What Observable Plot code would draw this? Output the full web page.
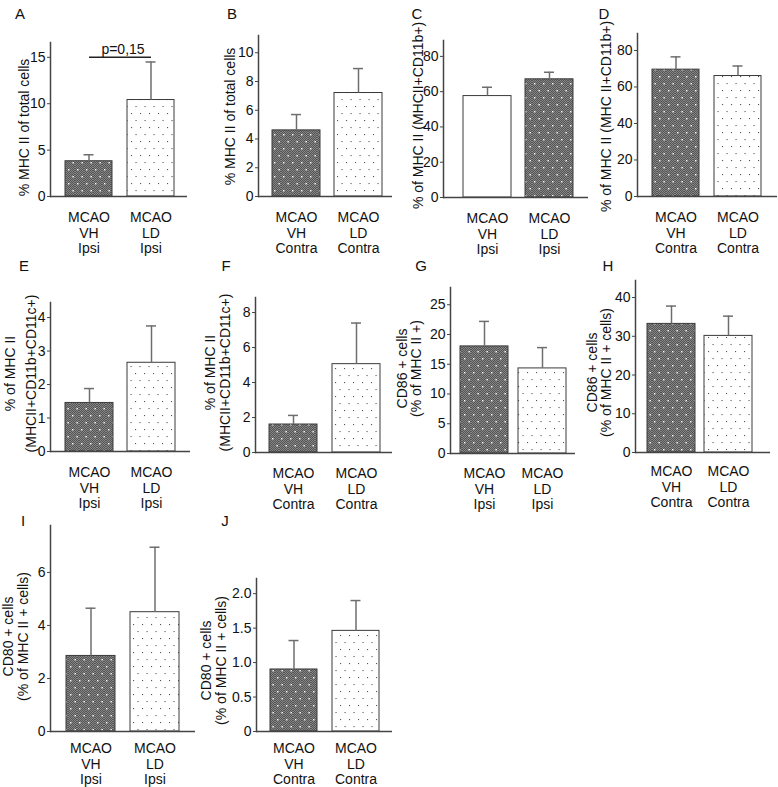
<!DOCTYPE html>
<html>
<head>
<meta charset="utf-8">
<script src="https://cdn.jsdelivr.net/npm/d3@7"></script>
<script src="https://cdn.jsdelivr.net/npm/@observablehq/plot@0.6"></script>
<style>
html, body { margin: 0; padding: 0; background: #fff; }
#root { position: relative; width: 778px; height: 787px; overflow: hidden; font-family: "Liberation Sans", Arial, sans-serif; }
.letter { position: absolute; font-size: 15px; color: #111; transform: translate(-50%, -50%); line-height: 1; }
.panel { position: absolute; }
</style>
</head>
<body>
<svg width="0" height="0" style="position:absolute">
  <defs>
    <pattern id="checker" patternUnits="userSpaceOnUse" width="2" height="2">
      <rect width="2" height="2" fill="#858585"/>
      <rect x="0" y="0" width="1" height="1" fill="#555"/>
      <rect x="1" y="1" width="1" height="1" fill="#555"/>
    </pattern>
    <pattern id="darkDots" patternUnits="userSpaceOnUse" width="9" height="14">
      <rect width="9" height="14" fill="url(#checker)"/>
      <rect x="2" y="3" width="1.4" height="1.4" fill="#fff"/>
      <rect x="6.5" y="10" width="1.4" height="1.4" fill="#fff"/>
    </pattern>
    <pattern id="lightDots" patternUnits="userSpaceOnUse" width="9" height="14">
      <rect width="9" height="14" fill="#fff"/>
      <rect x="2" y="3" width="1.1" height="1.1" fill="#555"/>
      <rect x="6.5" y="10" width="1.1" height="1.1" fill="#555"/>
    </pattern>
  </defs>
</svg>
<div id="root"></div>
<script>
// ---------- data ----------
const panelIds = ["A", "B", "C", "D", "E", "F", "G", "H", "I", "J"];
const groups = ["VH", "LD"];
const groupPrefix = "MCAO";
const hemispheres = ["Ipsi", "Contra", "Ipsi", "Contra", "Ipsi", "Contra", "Ipsi", "Contra", "Ipsi", "Contra"];
const vhMean  = [3.8, 4.6, 57.5, 69.5, 1.45, 1.6, 18.0, 33.2, 2.85, 0.9];
const vhUpper = [4.5, 5.7, 62.5, 76.5, 1.88, 2.12, 22.2, 37.8, 4.65, 1.32];
const ldMean  = [10.4, 7.2, 67.0, 66.0, 2.65, 5.05, 14.3, 30.1, 4.5, 1.46];
const ldUpper = [14.5, 8.9, 71.0, 71.5, 3.75, 7.4, 17.8, 35.2, 6.95, 1.9];
const yMax = [16.6, 11.2, 89, 89.3, 4.45, 8.86, 27.9, 44.4, 7.77, 2.22];
const yTicks = [
  [0, 5, 10, 15], [0, 2, 4, 6, 8, 10], [0, 20, 40, 60, 80], [0, 20, 40, 60, 80],
  [0, 1, 2, 3, 4], [0, 2, 4, 6, 8], [0, 5, 10, 15, 20, 25], [0, 10, 20, 30, 40],
  [0, 2, 4, 6], [0, 0.5, 1, 1.5, 2]
];
const yTickLabels = [
  ["0", "5", "10", "15"], ["0", "2", "4", "6", "8", "10"], ["0", "20", "40", "60", "80"], ["0", "20", "40", "60", "80"],
  ["0", "1", "2", "3", "4"], ["0", "2", "4", "6", "8"], ["0", "5", "10", "15", "20", "25"], ["0", "10", "20", "30", "40"],
  ["0", "2", "4", "6"], ["0", "0.5", "1.0", "1.5", "2.0"]
];
const yTitles = [
  ["% MHC II of total cells"],
  ["% MHC II of total cells"],
  ["% of MHC II (MHCII+CD11b+)"],
  ["% of MHC II (MHC II+CD11b+)"],
  ["% of MHC II", "(MHCII+CD11b+CD11c+)"],
  ["% of MHC II", "(MHCII+CD11b+CD11c+)"],
  ["CD86 + cells", "(% of MHC II +)"],
  ["CD86 + cells", "(% of MHC II + cells)"],
  ["CD80 + cells", "(% of MHC II + cells)"],
  ["CD80 + cells", "(% of MHC II + cells)"]
];
const pValuePanel = "A";
const pValueText = "p=0,15";
const pValueLevel = 15;

// ---------- layout & style (pixels) ----------
const layout = {
  A: {axisX: 50,  yTop: 42,  yBase: 196, xEnd: 187, bar1: 65,  bw: 47, gap: 15, titleX: [24],       titleY: 127, catPad: 15, letter: [20, 13]},
  B: {axisX: 258, yTop: 35,  yBase: 196, xEnd: 392, bar1: 272, bw: 48, gap: 14, titleX: [230],      titleY: 116, catPad: 15, letter: [232, 13]},
  C: {axisX: 443, yTop: 40,  yBase: 197, xEnd: 588, bar1: 463, bw: 48, gap: 14, titleX: [418],      titleY: 115, catPad: 15, letter: [417, 13]},
  D: {axisX: 637, yTop: 33,  yBase: 196, xEnd: 777, bar1: 652, bw: 47, gap: 15, titleX: [606],      titleY: 116, catPad: 15, letter: [604, 13]},
  E: {axisX: 50,  yTop: 302, yBase: 451, xEnd: 190, bar1: 65,  bw: 48, gap: 14, titleX: [10, 31],   titleY: 373, catPad: 15, letter: [24, 265]},
  F: {axisX: 255, yTop: 297, yBase: 452, xEnd: 392, bar1: 269, bw: 48, gap: 15, titleX: [210, 225], titleY: 372, catPad: 15, letter: [226, 265]},
  G: {axisX: 450, yTop: 287, yBase: 453, xEnd: 575, bar1: 460, bw: 48, gap: 10, titleX: [402, 416], titleY: 368, catPad: 14, letter: [421, 265]},
  H: {axisX: 635, yTop: 280, yBase: 452, xEnd: 770, bar1: 647, bw: 48, gap: 9,  titleX: [592, 606], titleY: 372, catPad: 13, letter: [608, 265]},
  I: {axisX: 50,  yTop: 525, yBase: 731, xEnd: 195, bar1: 66,  bw: 49, gap: 15, titleX: [8, 23],    titleY: 636, catPad: 11, letter: [23, 520]},
  J: {axisX: 256, yTop: 578, yBase: 731, xEnd: 392, bar1: 270, bw: 47, gap: 15, titleX: [206, 221], titleY: 660, catPad: 11, letter: [225, 520]}
};
const fillUrl = {dark: "url(#darkDots)", dots: "url(#lightDots)", white: "#ffffff"};
const panelFills = {C: ["white", "dark"]};
const axisColor = "#444";
const errColor = "#6e6e6e";
const textColor = "#111";
const font = "'Liberation Sans', Arial, sans-serif";

const root = document.getElementById("root");

panelIds.forEach((id, i) => {
  const L = layout[id];
  const left = Math.min(...L.titleX) - 12;
  const top = L.yTop - 16;
  const right = L.xEnd + 2;
  const bottom = L.yBase + 60;
  const W = right - left, H = bottom - top;
  const rows = groups.map((g, j) => ({
    group: g,
    mean: j ? ldMean[i] : vhMean[i],
    upper: j ? ldUpper[i] : vhUpper[i]
  }));
  const [f1, f2] = panelFills[id] || ["dark", "dots"];
  const frameMid = (L.yTop + L.yBase) / 2;
  const capInset = (L.bw - 10) / 2;
  const hemi = hemispheres[i];

  const marks = [
    Plot.barY([rows[0]], {x: "group", y: "mean", fill: fillUrl[f1], stroke: "#3a3a3a", strokeWidth: 1}),
    Plot.barY([rows[1]], {x: "group", y: "mean", fill: fillUrl[f2], stroke: "#3a3a3a", strokeWidth: 1}),
    Plot.ruleX(rows, {x: "group", y1: "mean", y2: "upper", stroke: errColor, strokeWidth: 1.5}),
    Plot.tickY(rows, {x: "group", y: "upper", stroke: errColor, strokeWidth: 1.5, insetLeft: capInset, insetRight: capInset}),
    Plot.ruleY([0], {stroke: axisColor, strokeWidth: 1.5}),
    Plot.frame({anchor: "left", stroke: axisColor, strokeWidth: 1.5}),
    Plot.axisY({
      ticks: yTicks[i],
      tickFormat: d => yTickLabels[i][yTicks[i].indexOf(d)],
      tickSize: 3, tickPadding: 2, fontSize: 14, label: null, stroke: axisColor, fill: textColor
    }),
    Plot.axisX({
      tickSize: 0, tickPadding: L.catPad, fontSize: 14, label: null, lineHeight: 1.1, fill: textColor,
      tickFormat: g => `${groupPrefix}\n${g}\n${hemi}`
    }),
    ...yTitles[i].map((t, k) => Plot.text([t], {
      text: d => d, frameAnchor: "left", rotate: -90,
      dx: L.titleX[k] - L.axisX, dy: L.titleY - frameMid,
      fontSize: 14, fill: textColor, textAnchor: "middle", lineAnchor: "middle"
    }))
  ];

  if (id === pValuePanel) {
    marks.push(
      Plot.link([{a: groups[0], b: groups[1], y: pValueLevel}], {x1: "a", x2: "b", y1: "y", y2: "y", stroke: "#222", strokeWidth: 1.5}),
      Plot.text([{g: groups[0], y: pValueLevel, t: pValueText}], {
        x: "g", y: "y", text: "t", dx: (L.bw + L.gap) / 2 + 3, dy: -3,
        lineAnchor: "bottom", fontSize: 14, fill: textColor
      })
    );
  }

  const svg = Plot.plot({
    width: W, height: H,
    marginLeft: L.axisX - left,
    marginRight: right - L.xEnd,
    marginTop: L.yTop - top,
    marginBottom: bottom - L.yBase,
    style: {background: "transparent", overflow: "visible", fontFamily: font, fontSize: "14px", maxWidth: "none"},
    x: {type: "band", domain: groups, range: [L.bar1 - left, L.bar1 + 2 * L.bw + L.gap - left],
        paddingInner: L.gap / (L.bw + L.gap), paddingOuter: 0, align: 0.5, axis: null},
    y: {domain: [0, yMax[i]], range: [L.yBase - top, L.yTop - top], axis: null},
    marks
  });

  const div = document.createElement("div");
  div.className = "panel";
  div.style.left = left + "px";
  div.style.top = top + "px";
  div.style.width = W + "px";
  div.style.height = H + "px";
  div.appendChild(svg);
  root.appendChild(div);

  const letter = document.createElement("div");
  letter.className = "letter";
  letter.textContent = id;
  letter.style.left = L.letter[0] + "px";
  letter.style.top = L.letter[1] + "px";
  root.appendChild(letter);
});
</script>
</body>
</html>
